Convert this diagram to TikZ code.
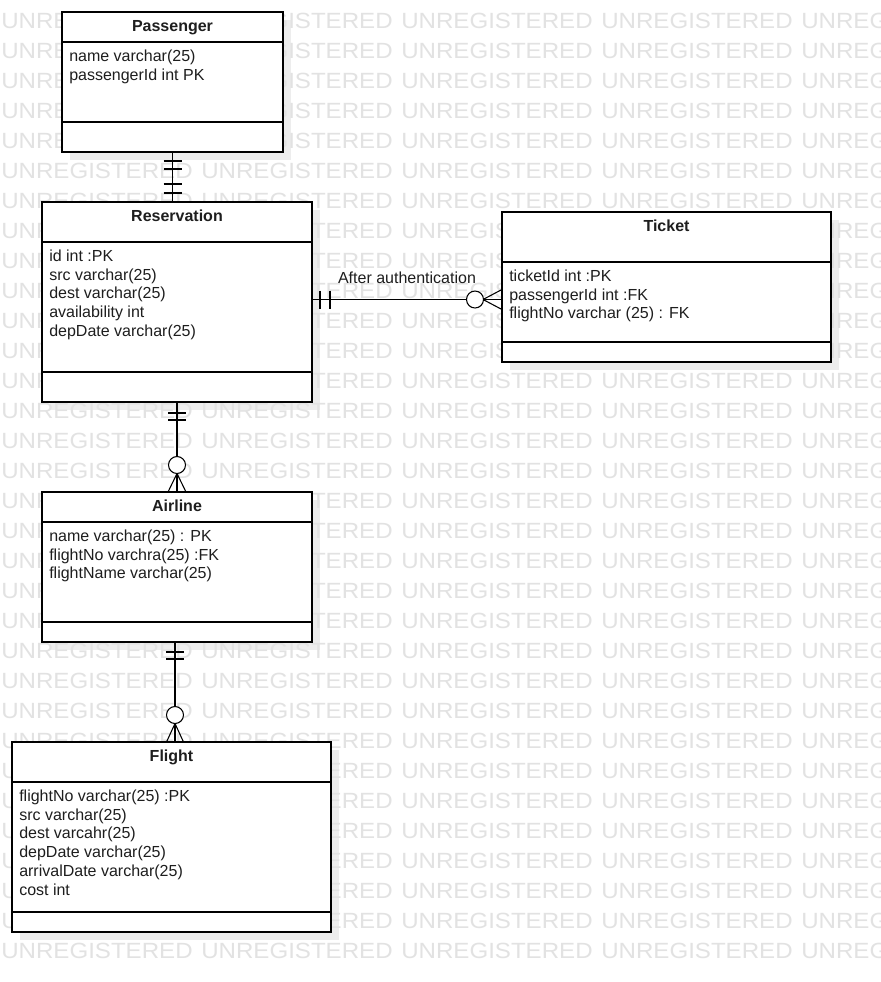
\documentclass[tikz,border=0pt]{standalone}
\usepackage{fontspec}
\setmainfont{Liberation Sans}
\usetikzlibrary{calc}
\definecolor{wmgray}{HTML}{E2E2E2}
\definecolor{shadowgray}{HTML}{EDEDED}
\definecolor{ink}{HTML}{1E1E1E}
\pgfdeclarelayer{paper}
\pgfdeclarelayer{shadows}
\pgfdeclarelayer{stamp}
\pgfsetlayers{paper,shadows,stamp,main}

% entity box: name, left, top, right, header line, divider, bottom, title, attribute list
\newcommand\erbox[9]{%
  \begin{pgfonlayer}{shadows}
    \fill[shadowgray] ($(#2,#3)+(8,8)$) rectangle ($(#4,#7)+(8,8)$);
  \end{pgfonlayer}
  \node[entity, minimum width={(#4-#2)*0.75pt}, minimum height={(#7-#3)*0.75pt}] (#1) at (#2,#3) {};
  \draw[rule] (#2,#5) -- (#4,#5) (#2,#6) -- (#4,#6);
  \node[etitle] (#1-title) at ({(#2+#4)/2},#3+19) {#8};
  \foreach \t [count=\i] in {#9}
    \node[attr] (#1-a\i) at (#2+7,{#5+19.5+18.7*(\i-1)}) {\t};
}

\begin{document}
\begin{tikzpicture}[x=0.75pt,y=-0.75pt,
  entity/.style={draw=black, line width=0.8pt, fill=white, rectangle, inner sep=0pt, outer sep=0pt, anchor=north west},
  rule/.style={line width=0.8pt},
  etitle/.style={anchor=base, inner sep=0pt, font=\fontsize{12}{14}\selectfont\bfseries, text=ink},
  attr/.style={anchor=base west, inner sep=0pt, font=\fontsize{12}{14}\selectfont, text=ink},
  lbl/.style={anchor=base, inner sep=0pt, font=\fontsize{12}{14}\selectfont, text=ink},
  conn/.style={line width=0.8pt},
  optional/.style={draw=black, line width=0.8pt, fill=white},
  wmtext/.style={anchor=base west, inner sep=0pt, text=wmgray, font=\fontsize{16.5}{18}\selectfont}]

\useasboundingbox (0,0) rectangle (881,982);
\begin{pgfonlayer}{paper}
  \fill[white] (0,0) rectangle (881,982);
\end{pgfonlayer}

% background stamp text
\begin{pgfonlayer}{stamp}
  \begin{scope}
    \clip (0,0) rectangle (881,982);
    \foreach \r in {0,...,31}
      \foreach \c in {0,...,4}
        \node[wmtext] (wm-\r-\c) at (200*\c+1,958.5-30*\r) {\scalebox{1.095}[1]{UNREGISTERED}};
  \end{scope}
\end{pgfonlayer}

% entities
\erbox{pass}{62}{12}{283}{42}{122}{152}{Passenger}{name varchar(25), passengerId int PK}
\erbox{res}{42}{202}{312}{242}{372}{402}{Reservation}{id int :PK, src varchar(25), dest varchar(25), availability int, depDate varchar(25)}
\erbox{tk}{502}{212}{831}{262}{342}{362}{Ticket}{ticketId int :PK, passengerId int :FK, flightNo varchar (25) : FK}
\erbox{air}{42}{492}{312}{522}{622}{642}{Airline}{name varchar(25) : PK, flightNo varchra(25) :FK, flightName varchar(25)}
\erbox{fl}{12}{742}{331}{782}{912}{932}{Flight}{flightNo varchar(25) :PK, src varchar(25), dest varcahr(25), depDate varchar(25), arrivalDate varchar(25), cost int}

% Passenger -- Reservation : one and only one on both ends
\coordinate (pr1) at (pass.south);
\coordinate (pr2) at (pr1 |- res.north);
\draw[conn] (pr1) -- (pr2);
\draw[conn] ($(pr1)+(-9,9)$) -- ($(pr1)+(9,9)$)
            ($(pr1)+(-9,17)$) -- ($(pr1)+(9,17)$)
            ($(pr2)+(-9,-18)$) -- ($(pr2)+(9,-18)$)
            ($(pr2)+(-9,-9)$) -- ($(pr2)+(9,-9)$);

% Reservation -- Ticket : one to zero or many
\coordinate (rtlev) at (0,299.5);
\coordinate (rt1) at (res.east |- rtlev);
\coordinate (rt2) at (tk.west |- rtlev);
\draw[conn] (rt1) -- (rt2);
\draw[conn] ($(rt1)+(8,-9)$) -- ($(rt1)+(8,9)$)
            ($(rt1)+(18,-9)$) -- ($(rt1)+(18,9)$);
\draw[conn] ($(rt2)+(-19,0)$) -- ($(rt2)+(0,-10)$)
            ($(rt2)+(-19,0)$) -- ($(rt2)+(0,10)$);
\draw[optional] ($(rt2)+(-27,0)$) circle[radius=8.5];
\node[lbl] (auth) at ($($(rt1)!0.5!(rt2)$)+(0,-16.5)$) {After authentication};

% Reservation -- Airline : one to zero or many
\coordinate (ra1) at (res.south);
\coordinate (ra2) at (ra1 |- air.north);
\draw[conn] (ra1) -- (ra2);
\draw[conn] ($(ra1)+(-9,11)$) -- ($(ra1)+(9,11)$)
            ($(ra1)+(-9,18)$) -- ($(ra1)+(9,18)$);
\draw[conn] ($(ra2)+(0,-18.5)$) -- ($(ra2)+(-9,0)$)
            ($(ra2)+(0,-18.5)$) -- ($(ra2)+(9,0)$);
\draw[optional] ($(ra2)+(0,-27)$) circle[radius=8.5];

% Airline -- Flight : one to zero or many
\coordinate (af1) at ($(air.south)+(-2,0)$);
\coordinate (af2) at (af1 |- fl.north);
\draw[conn] (af1) -- (af2);
\draw[conn] ($(af1)+(-9,10)$) -- ($(af1)+(9,10)$)
            ($(af1)+(-9,17)$) -- ($(af1)+(9,17)$);
\draw[conn] ($(af2)+(0,-18.5)$) -- ($(af2)+(-8.5,0)$)
            ($(af2)+(0,-18.5)$) -- ($(af2)+(8.5,0)$);
\draw[optional] ($(af2)+(0,-27)$) circle[radius=8.5];

\end{tikzpicture}
\end{document}
